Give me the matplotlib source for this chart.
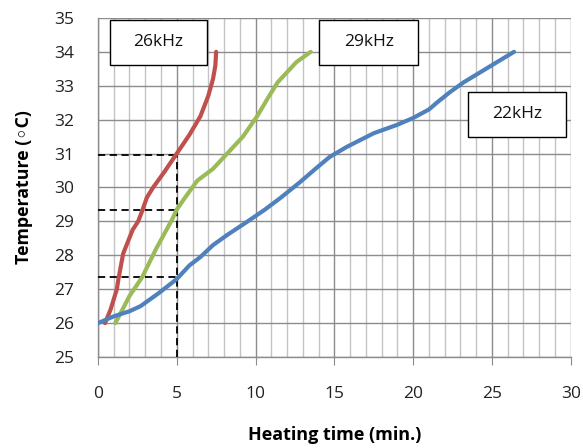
import matplotlib
matplotlib.use("Agg")
import matplotlib.pyplot as plt
from matplotlib.ticker import MultipleLocator
from matplotlib.patches import Rectangle

plt.rcParams['font.family'] = ['Open Sans', 'DejaVu Sans']

# 22 kHz
x22 = [0, 1.0, 2.0, 2.7, 3.9, 5.0, 5.8, 6.5, 7.3, 8.2, 9.5, 10.6, 11.6, 12.8, 13.8, 14.7, 15.8, 17.5, 19.0, 20.0, 21.0, 21.5, 22.3, 23.2, 24.8, 26.4]
y22 = [26.0, 26.2, 26.35, 26.5, 26.9, 27.3, 27.7, 27.95, 28.3, 28.6, 29.0, 29.35, 29.7, 30.15, 30.55, 30.9, 31.2, 31.6, 31.85, 32.05, 32.3, 32.5, 32.8, 33.1, 33.55, 34.0]
# 26 kHz
x26 = [0.45, 0.8, 1.0, 1.2, 1.3, 1.6, 2.2, 2.55, 2.8, 3.1, 3.5, 4.2, 5.0, 5.8, 6.5, 7.0, 7.3, 7.45, 7.5]
y26 = [26.0, 26.4, 26.7, 27.0, 27.3, 28.05, 28.75, 29.0, 29.3, 29.7, 30.0, 30.45, 31.0, 31.55, 32.1, 32.7, 33.2, 33.6, 34.0]
# 29 kHz
x29 = [1.1, 1.5, 2.0, 2.8, 3.7, 4.7, 5.0, 5.6, 6.3, 7.3, 8.2, 9.2, 10.1, 10.8, 11.4, 12.0, 12.6, 13.5]
y29 = [26.0, 26.35, 26.8, 27.35, 28.2, 29.05, 29.35, 29.75, 30.2, 30.55, 31.0, 31.5, 32.1, 32.65, 33.1, 33.4, 33.7, 34.0]

guide_x = 5
guide_y = [27.35, 29.35, 30.95]

labels = ['26kHz', '29kHz', '22kHz']
# label boxes: (x0, x1, y0, y1) in data units
boxes = [(0.76, 6.92, 33.62, 34.94), (14.03, 20.32, 33.62, 34.94), (23.49, 29.71, 31.49, 32.82)]

fig = plt.figure(figsize=(5.83, 4.48), dpi=100)
ax = fig.add_axes([0.168, 0.203, 0.811, 0.757])

ax.set_xlim(0, 30)
ax.set_ylim(25, 35)
ax.xaxis.set_major_locator(MultipleLocator(5))
ax.xaxis.set_minor_locator(MultipleLocator(1))
ax.yaxis.set_major_locator(MultipleLocator(1))

ax.grid(which='major', axis='both', color='#8c8c8c', linewidth=1.0)
ax.grid(which='minor', axis='x', color='#c4c4c4', linewidth=1.0)
ax.set_axisbelow(True)

for s in ['top', 'right']:
    ax.spines[s].set_visible(False)
for s in ['left', 'bottom']:
    ax.spines[s].set_color('#8c8c8c')
    ax.spines[s].set_linewidth(1.0)

ax.tick_params(axis='x', which='major', length=6, color='#8c8c8c', pad=15, labelsize=12.5, labelcolor='#222222')
ax.tick_params(axis='x', which='minor', length=0)
ax.tick_params(axis='y', which='major', length=0, pad=17, labelsize=12.5, labelcolor='#222222')

# dashed guides
ax.plot([guide_x, guide_x], [25, max(guide_y)], color='black', linestyle=(0, (4, 2.5)), linewidth=1.3, zorder=3)
for gy in guide_y:
    ax.plot([0, guide_x], [gy, gy], color='black', linestyle=(0, (4, 2.5)), linewidth=1.3, zorder=3)

ax.plot(x26, y26, color='#C0504D', linewidth=3, solid_capstyle='round', solid_joinstyle='round', zorder=4)
ax.plot(x29, y29, color='#9BBB59', linewidth=3, solid_capstyle='round', solid_joinstyle='round', zorder=4)
ax.plot(x22, y22, color='#4F81BD', linewidth=3, solid_capstyle='round', solid_joinstyle='round', zorder=4)

for lab, (x0, x1, y0, y1) in zip(labels, boxes):
    ax.add_patch(Rectangle((x0, y0), x1 - x0, y1 - y0, facecolor='white', edgecolor='black', linewidth=1.0, zorder=5))
    ax.text((x0 + x1) / 2, (y0 + y1) / 2, lab, ha='center', va='center', fontsize=12.5, color='#111111', zorder=6)

ax.set_xlabel('Heating time (min.)', fontweight='bold', fontsize=13, labelpad=17)
ax.set_ylabel('Temperature (\u25e6C)', fontweight='bold', fontsize=12.8, labelpad=15)

fig.savefig('out.png', dpi=100)
